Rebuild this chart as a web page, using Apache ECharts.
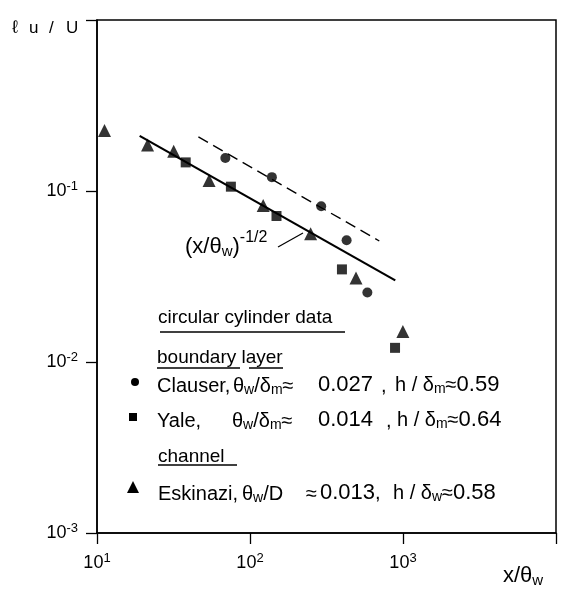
<!DOCTYPE html>
<html><head><meta charset="utf-8">
<script src="https://cdn.jsdelivr.net/npm/echarts@6/dist/echarts.min.js"></script>
<style>html,body{margin:0;padding:0;background:#fff}#c{width:567px;height:597px}</style>
</head><body><div id="c"></div>
<script>
// ---- data ----
const clauserX = [69, 139, 292, 428, 585];
const clauserY = [0.156, 0.1205, 0.0815, 0.0515, 0.0255];
const yaleX = [38, 75, 149, 399, 887];
const yaleY = [0.147, 0.106, 0.0714, 0.0348, 0.0121];
const eskX = [11.2, 21.4, 31.7, 54, 122, 249, 493, 998];
const eskY = [0.226, 0.186, 0.171, 0.115, 0.0822, 0.0562, 0.031, 0.0151];
const fitX = [19, 890];          // (x/θw)^-1/2 line end points
const fitY = [0.21, 0.030];
const dashX = [46, 700];         // dashed line end points
const dashY = [0.207, 0.051];
const xTickValues = [10, 100, 1000];
const xTickExp = ['1', '2', '3'];
const yTickValues = [0.1, 0.01, 0.001];
const yTickExp = ['-1', '-2', '-3'];

const FONT = '"Liberation Sans", Arial, sans-serif';
const pairs = (xs, ys) => xs.map((x, i) => [x, ys[i]]);
const expOf = v => Math.round(Math.log10(v));
function tickFmt(values, exps) {
  return v => {
    const i = values.findIndex(t => expOf(t) === expOf(v));
    return i < 0 ? '' : '{b|10}{s|' + exps[i] + '}';
  };
}
const tickRich = {
  b: {fontSize: 18, fontFamily: FONT, color: '#000'},
  s: {fontSize: 13, fontFamily: FONT, color: '#000', padding: [0, 0, 10, 0]}
};
const txtRich = (fs) => ({
  n: {fontSize: fs, fontFamily: FONT, color: '#000', padding: [0, 0, 9, 0]},
  d: {fontSize: fs + 2, fontFamily: FONT, color: '#000', padding: [0, 0, 9, 0]},
  s: {fontSize: Math.round(fs * 0.7), fontFamily: FONT, color: '#000'},
  p: {fontSize: Math.round(fs * 0.72), fontFamily: FONT, color: '#000', padding: [0, 0, 27, 0]}
});
function T(x, baseline, text, fs) {
  return {type: 'text', x: x, y: baseline + 13, style: {text: text, rich: txtRich(fs), align: 'left', verticalAlign: 'bottom', fill: '#000'}};
}
function L(x1, y1, x2, y2, w) {
  return {type: 'line', shape: {x1, y1, x2, y2}, style: {stroke: '#000', lineWidth: w || 1.3}};
}
function P(x, baseline, s, fs) {
  return {type: 'text', x: x, y: baseline + 4, style: {text: s, font: fs + 'px ' + FONT, fill: '#000', verticalAlign: 'bottom'}};
}

const chart = echarts.init(document.getElementById('c'), null, {renderer: 'canvas'});
chart.setOption({
  animation: false,
  backgroundColor: '#fff',
  grid: {left: 97, top: 20, width: 459, height: 513, show: true, borderColor: '#000', borderWidth: 1.5, containLabel: false},
  xAxis: {
    type: 'log', logBase: 10, min: 10, max: 10000,
    axisLine: {show: true, lineStyle: {color: '#000', width: 1.5}},
    axisTick: {show: true, inside: false, length: 11, lineStyle: {color: '#000', width: 1.3}},
    minorTick: {show: false}, splitLine: {show: false}, minorSplitLine: {show: false},
    axisLabel: {margin: 19, formatter: tickFmt(xTickValues, xTickExp), rich: tickRich, color: '#000'}
  },
  yAxis: {
    type: 'log', logBase: 10, min: 0.001, max: 1,
    axisLine: {show: true, lineStyle: {color: '#000', width: 1.5}},
    axisTick: {show: true, inside: false, length: 11, lineStyle: {color: '#000', width: 1.3}},
    minorTick: {show: false}, splitLine: {show: false}, minorSplitLine: {show: false},
    axisLabel: {margin: 19, formatter: tickFmt(yTickValues, yTickExp), rich: tickRich, color: '#000'}
  },
  series: [
    {name: 'fit', type: 'line', data: pairs(fitX, fitY), symbol: 'none', lineStyle: {color: '#000', width: 2.2}, z: 2},
    {name: 'dash', type: 'line', data: pairs(dashX, dashY), symbol: 'none', lineStyle: {color: '#000', width: 1.4, type: [11, 6]}, z: 2},
    {name: 'Clauser', type: 'scatter', data: pairs(clauserX, clauserY), symbol: 'circle', symbolSize: 10, itemStyle: {color: '#000'}, z: 3},
    {name: 'Yale', type: 'scatter', data: pairs(yaleX, yaleY), symbol: 'rect', symbolSize: 10, itemStyle: {color: '#000'}, z: 3},
    {name: 'Eskinazi', type: 'scatter', data: pairs(eskX, eskY), symbol: 'triangle', symbolSize: 13, itemStyle: {color: '#000'}, z: 3}
  ],
  graphic: [
    // y-axis title
    P(12, 33, 'ℓ', 18), P(29, 33, 'u', 17), P(49, 33, '/', 17), P(66, 33, 'U', 17),
    // x-axis title
    T(503, 583, '{n|x/θ}{s|w}', 22),
    // annotation for the fitted line
    T(185, 260, '{n|(x/θ}{s|w}{n|)}{p|-1/2}', 22),
    L(278, 247, 303, 233, 1.2),
    // legend block
    T(158, 323, '{n|circular cylinder data}', 19),
    L(160, 332, 345, 332),
    T(157, 363, '{n|boundary layer}', 19),
    L(157, 368, 240, 368), L(249, 368, 283, 368),
    {type: 'circle', shape: {cx: 135, cy: 382, r: 4}, style: {fill: '#000'}},
    T(157, 392, '{n|Clauser,}', 20),
    T(233, 392, '{n|θ}{s|w}{n|/δ}{s|m}{n|≈}', 20),
    T(318, 392, '{d|0.027}', 20),
    T(381, 392, '{n|,}', 20),
    T(395, 392, '{n|h / δ}{s|m}{n|≈}{d|0.59}', 20),
    {type: 'rect', shape: {x: 129, y: 413, width: 8, height: 8}, style: {fill: '#000'}},
    T(157, 427, '{n|Yale,}', 20),
    T(232, 427, '{n|θ}{s|w}{n|/δ}{s|m}{n|≈}', 20),
    T(318, 427, '{d|0.014}', 20),
    T(386, 427, '{n|,}', 20),
    T(397, 427, '{n|h / δ}{s|m}{n|≈}{d|0.64}', 20),
    T(158, 462, '{n|channel}', 19),
    L(158, 465, 237, 465),
    {type: 'polygon', shape: {points: [[133, 481], [139, 493], [127, 493]]}, style: {fill: '#000'}},
    T(158, 500, '{n|Eskinazi,}', 20),
    T(242, 500, '{n|θ}{s|w}{n|/D}', 20),
    T(306, 500, '{n|≈}', 20),
    T(320, 500, '{d|0.013}{n|,}', 20),
    T(393, 500, '{n|h / δ}{s|w}{n|≈}{d|0.58}', 20)
  ]
});
</script>
</body></html>
